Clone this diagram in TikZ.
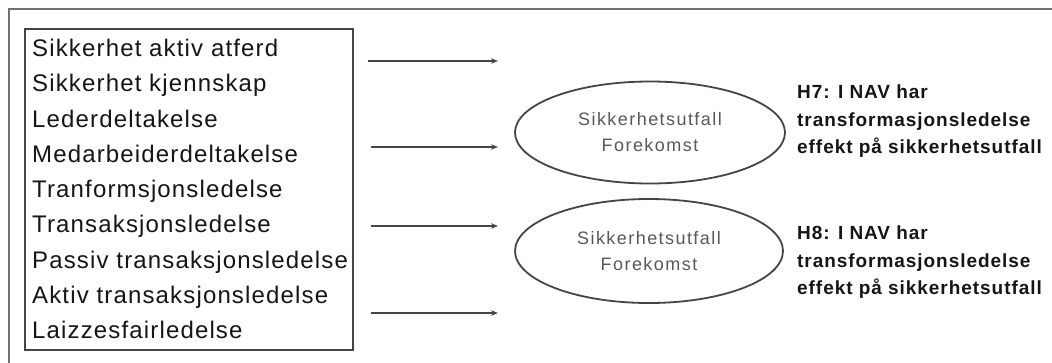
\documentclass[tikz,border=0pt]{standalone}
\usepackage{fontspec}
\setmainfont{Liberation Sans}
\newfontfamily\listfont[LetterSpace=4.8]{Liberation Sans}
\newfontfamily\ellfont[LetterSpace=8]{Liberation Sans}
\newfontfamily\hypfont[LetterSpace=5]{Liberation Sans}
\usetikzlibrary{shapes.geometric,arrows.meta}
\definecolor{framegray}{HTML}{707070}
\definecolor{boxgray}{HTML}{454545}
\definecolor{elltext}{HTML}{585858}
\definecolor{txt}{HTML}{151515}
\tikzset{
  listitem/.style={anchor=base west, inner sep=0pt, text=txt, font=\listfont\fontsize{24}{28}\selectfont},
  hyptext/.style={anchor=base west, inner sep=0pt, text=txt, align=left, font=\hypfont\bfseries\fontsize{19}{27.4}\selectfont},
  outcome/.style={draw=boxgray, line width=1.8pt, ellipse, minimum width=270pt, minimum height=102pt, inner sep=0pt, align=center, text=elltext, font=\ellfont\fontsize{18}{26}\selectfont},
  link/.style={draw=boxgray, line width=1.4pt, -{Stealth[length=7pt,width=5.5pt]}}
}
\begin{document}
\begin{tikzpicture}[x=1pt,y=-1pt]
\useasboundingbox (0,0) rectangle (1052,362);
\begin{scope}
\clip (0,0) rectangle (1052,362);
\draw[framegray, line width=2.4pt] (9,370) -- (9,9) -- (1060,9);
\end{scope}
% inner box
\node[draw=boxgray, line width=1.8pt, minimum width=328pt, minimum height=321pt, inner sep=0pt, anchor=north west] (list) at (24,28) {};
% list items
\node[listitem] (i1) at (32,56.5) {Sikkerhet aktiv atferd};
\node[listitem] (i2) at (32,91.75) {Sikkerhet kjennskap};
\node[listitem] (i3) at (32,127) {Lederdeltakelse};
\node[listitem] (i4) at (32,162.25) {Medarbeiderdeltakelse};
\node[listitem] (i5) at (32,197.5) {Tranformsjonsledelse};
\node[listitem] (i6) at (32,232.75) {Transaksjonsledelse};
\node[listitem] (i7) at (32,268) {Passiv transaksjonsledelse};
\node[listitem] (i8) at (32,303.25) {Aktiv transaksjonsledelse};
\node[listitem] (i9) at (32,338.5) {Laizzesfairledelse};
% arrows
\coordinate (a1s) at (368,61);  \coordinate (a1e) at (498,61);
\coordinate (a2s) at (371,147); \coordinate (a2e) at (498,147);
\coordinate (a3s) at (371,226); \coordinate (a3e) at (498,226);
\coordinate (a4s) at (371,313); \coordinate (a4e) at (498,313);
\draw[link] (a1s) -- (a1e);
\draw[link] (a2s) -- (a2e);
\draw[link] (a3s) -- (a3e);
\draw[link] (a4s) -- (a4e);
% ellipses
\node[outcome] (e1) at (650,132.5) {Sikkerhetsutfall\\Forekomst};
\node[outcome, minimum width=268pt, minimum height=104pt] (e2) at (649,251) {Sikkerhetsutfall\\Forekomst};
% hypotheses
\node[hyptext] (h7) at (797,153.5) {H7: I NAV har\\transformasjonsledelse\\effekt på sikkerhetsutfall};
\node[hyptext] (h8) at (797,294.5) {H8: I NAV har\\transformasjonsledelse\\effekt på sikkerhetsutfall};
\end{tikzpicture}
\end{document}
